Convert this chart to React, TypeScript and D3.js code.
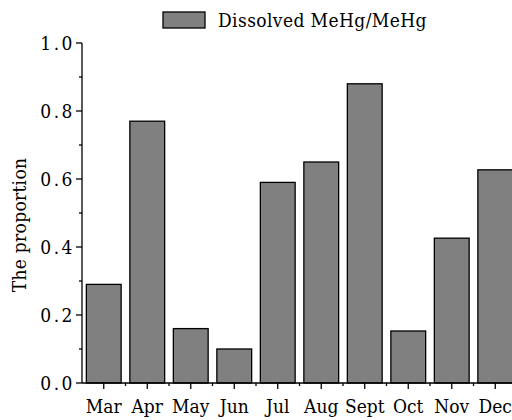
import React from "react";
import * as d3 from "d3";

const months = ["Mar", "Apr", "May", "Jun", "Jul", "Aug", "Sept", "Oct", "Nov", "Dec"];
const proportion = [0.29, 0.77, 0.16, 0.10, 0.59, 0.65, 0.88, 0.153, 0.426, 0.627];
const yTicks = [0, 0.2, 0.4, 0.6, 0.8, 1.0];
const yMinorTicks = [0.1, 0.3, 0.5, 0.7, 0.9];
const seriesName = "Dissolved MeHg/MeHg";
const yTitle = "The proportion";

const W = 512;
const H = 420;
const FONT = "'DejaVu Serif Condensed', 'DejaVu Serif', serif";

export default function App() {
  const x = d3.scaleBand<string>().domain(months).range([82, 517]).paddingInner(0.2).paddingOuter(0.1);
  const y = d3.scaleLinear().domain([0, 1]).range([383, 43]);
  const step = x.step();
  const x0 = 82;
  const boundaries = d3.range(1, months.length).map((i) => x0 + i * step);

  return (
    <svg width={W} height={H} style={{ position: "absolute", left: 0, top: 0, background: "#fff" }}>
      {months.map((m, i) => (
        <rect
          key={m}
          x={x(m)!}
          y={y(proportion[i])}
          width={x.bandwidth()}
          height={y(0) - y(proportion[i])}
          fill="#808080"
          stroke="#000"
          strokeWidth={1.3}
        />
      ))}
      <line x1={x0} x2={x0} y1={y(1)} y2={y(0)} stroke="#000" strokeWidth={1.3} />
      {yTicks.map((t) => (
        <g key={t}>
          <line x1={x0 - 6} x2={x0} y1={y(t)} y2={y(t)} stroke="#000" strokeWidth={1.3} />
          <text x={75} y={y(t)} dy="0.36em" textAnchor="end" fontFamily={FONT} fontSize={19} letterSpacing={2.5} fill="#000">
            {t.toFixed(1)}
          </text>
        </g>
      ))}
      {yMinorTicks.map((t) => (
        <line key={t} x1={x0 - 3} x2={x0} y1={y(t)} y2={y(t)} stroke="#000" strokeWidth={1.3} />
      ))}
      <line x1={x0} x2={517} y1={y(0)} y2={y(0)} stroke="#000" strokeWidth={1.3} />
      {months.map((m) => {
        const cx = x(m)! + x.bandwidth() / 2;
        return (
          <g key={m}>
            <line x1={cx} x2={cx} y1={y(0)} y2={y(0) + 6} stroke="#000" strokeWidth={1.3} />
            <text x={cx} y={413} textAnchor="middle" fontFamily={FONT} fontSize={19} fill="#000">
              {m}
            </text>
          </g>
        );
      })}
      {boundaries.map((b) => (
        <line key={b} x1={b} x2={b} y1={y(0)} y2={y(0) + 3} stroke="#000" strokeWidth={1.3} />
      ))}
      <text
        transform={`translate(26, ${(y(0) + y(1)) / 2 + 12}) rotate(-90)`}
        textAnchor="middle"
        fontFamily={FONT}
        fontSize={19}
        letterSpacing={0.3}
        fill="#000"
      >
        {yTitle}
      </text>
      <rect x={163} y={12} width={42} height={16} fill="#808080" stroke="#000" strokeWidth={1.3} />
      <text x={218} y={27} fontFamily={FONT} fontSize={19} letterSpacing={0.4} fill="#000">
        {seriesName}
      </text>
    </svg>
  );
}
